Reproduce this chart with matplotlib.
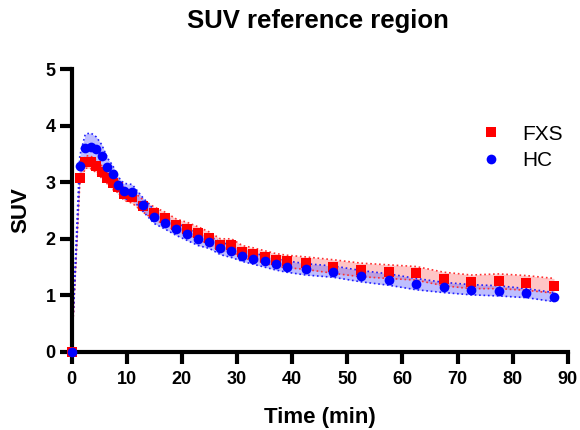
import matplotlib
matplotlib.use('Agg')
import numpy as np
import matplotlib.pyplot as plt

plt.rcParams['font.family'] = ['Liberation Sans', 'DejaVu Sans']
plt.rcParams['font.weight'] = 'bold'

time_min = [0, 1.5, 2.5, 3.5, 4.5, 5.5, 6.5, 7.5, 8.5, 9.5, 11, 13, 15, 17, 19, 21, 23, 25,
            27, 29, 31, 33, 35, 37, 39, 42.5, 47.5, 52.5, 57.5, 62.5, 67.5, 72.5, 77.5,
            82.5, 87.5]

fxs_mean = [0, 3.07, 3.36, 3.35, 3.28, 3.18, 3.08, 2.98, 2.92, 2.79, 2.74, 2.58, 2.45, 2.36,
            2.24, 2.18, 2.10, 2.01, 1.89, 1.89, 1.77, 1.73, 1.68, 1.63, 1.60, 1.57, 1.51,
            1.45, 1.42, 1.39, 1.29, 1.24, 1.25, 1.22, 1.17]
fxs_err = [0, 0.10, 0.11, 0.11, 0.11, 0.11, 0.11, 0.11, 0.11, 0.11, 0.11, 0.11, 0.11, 0.11,
           0.11, 0.11, 0.11, 0.11, 0.11, 0.11, 0.11, 0.11, 0.11, 0.11, 0.11, 0.11, 0.12,
           0.12, 0.12, 0.12, 0.12, 0.12, 0.13, 0.13, 0.13]

hc_mean = [0, 3.29, 3.61, 3.63, 3.58, 3.46, 3.26, 3.14, 2.95, 2.84, 2.83, 2.60, 2.39, 2.28,
           2.17, 2.08, 1.99, 1.94, 1.83, 1.78, 1.70, 1.65, 1.60, 1.55, 1.51, 1.46, 1.42,
           1.34, 1.28, 1.20, 1.14, 1.10, 1.08, 1.04, 0.97]
hc_err = [0, 0.18, 0.24, 0.24, 0.22, 0.2, 0.17, 0.15, 0.14, 0.14, 0.13, 0.12, 0.12, 0.11,
          0.11, 0.11, 0.11, 0.11, 0.11, 0.11, 0.1, 0.1, 0.1, 0.1, 0.1, 0.1, 0.1, 0.1,
          0.1, 0.1, 0.09, 0.09, 0.09, 0.08, 0.08]

fig = plt.figure(figsize=(5.8, 4.3), dpi=100)
ax = fig.add_axes([0.1233, 0.1814, 0.8557, 0.6581])

t = np.array(time_min)


def band(mean, err, color, fill):
    m = np.array(mean)
    e = np.array(err)
    ax.fill_between(t, m - e, m + e, color=fill, alpha=0.45, lw=0, zorder=1)
    ax.plot(t, m - e, ':', color=color, lw=1.2, zorder=2, clip_on=False)
    ax.plot(t, m + e, ':', color=color, lw=1.2, zorder=2, clip_on=False)


band(fxs_mean, fxs_err, '#ff3030', '#ff8080')
ax.plot(t, fxs_mean, 's', color='#ff0000', ms=6.5, mew=0, label='FXS', zorder=3, clip_on=False)
band(hc_mean, hc_err, '#2020ff', '#7070ff')
ax.plot(t, hc_mean, 'o', color='#0000ff', ms=7, mew=0, label='HC', zorder=5, clip_on=False)

ax.set_xlim(0, 90)
ax.set_ylim(0, 5)
ax.set_xticks(range(0, 91, 10))
ax.set_yticks(range(0, 6))
for s in ['top', 'right']:
    ax.spines[s].set_visible(False)
for s in ['left', 'bottom']:
    ax.spines[s].set_linewidth(3)
ax.tick_params(width=3, length=8.5, labelsize=13)
ax.tick_params(axis='x', pad=5)
ax.tick_params(axis='y', pad=3)
for lab in ax.get_xticklabels() + ax.get_yticklabels():
    lab.set_fontweight('bold')

ax.set_xlabel('Time (min)', fontsize=16, fontweight='bold')
ax.xaxis.set_label_coords(0.5, -0.251)
ax.xaxis.label.set_va('baseline')
ax.set_ylabel('SUV', fontsize=16, fontweight='bold')
ax.yaxis.set_label_coords(-0.102, 0.5)
ax.yaxis.label.set_va('center')

fig.text(317.5 / 580, 1 - 28 / 430, 'SUV reference region', fontsize=18.5,
         fontweight='bold', ha='center', va='baseline')

leg = ax.legend(loc='upper left', bbox_to_anchor=(0.786, 0.87), frameon=False,
                fontsize=15, handletextpad=1.0, labelspacing=0.35, handlelength=1.0)
for txt in leg.get_texts():
    txt.set_fontweight('normal')

fig.savefig('out.png', dpi=100)
